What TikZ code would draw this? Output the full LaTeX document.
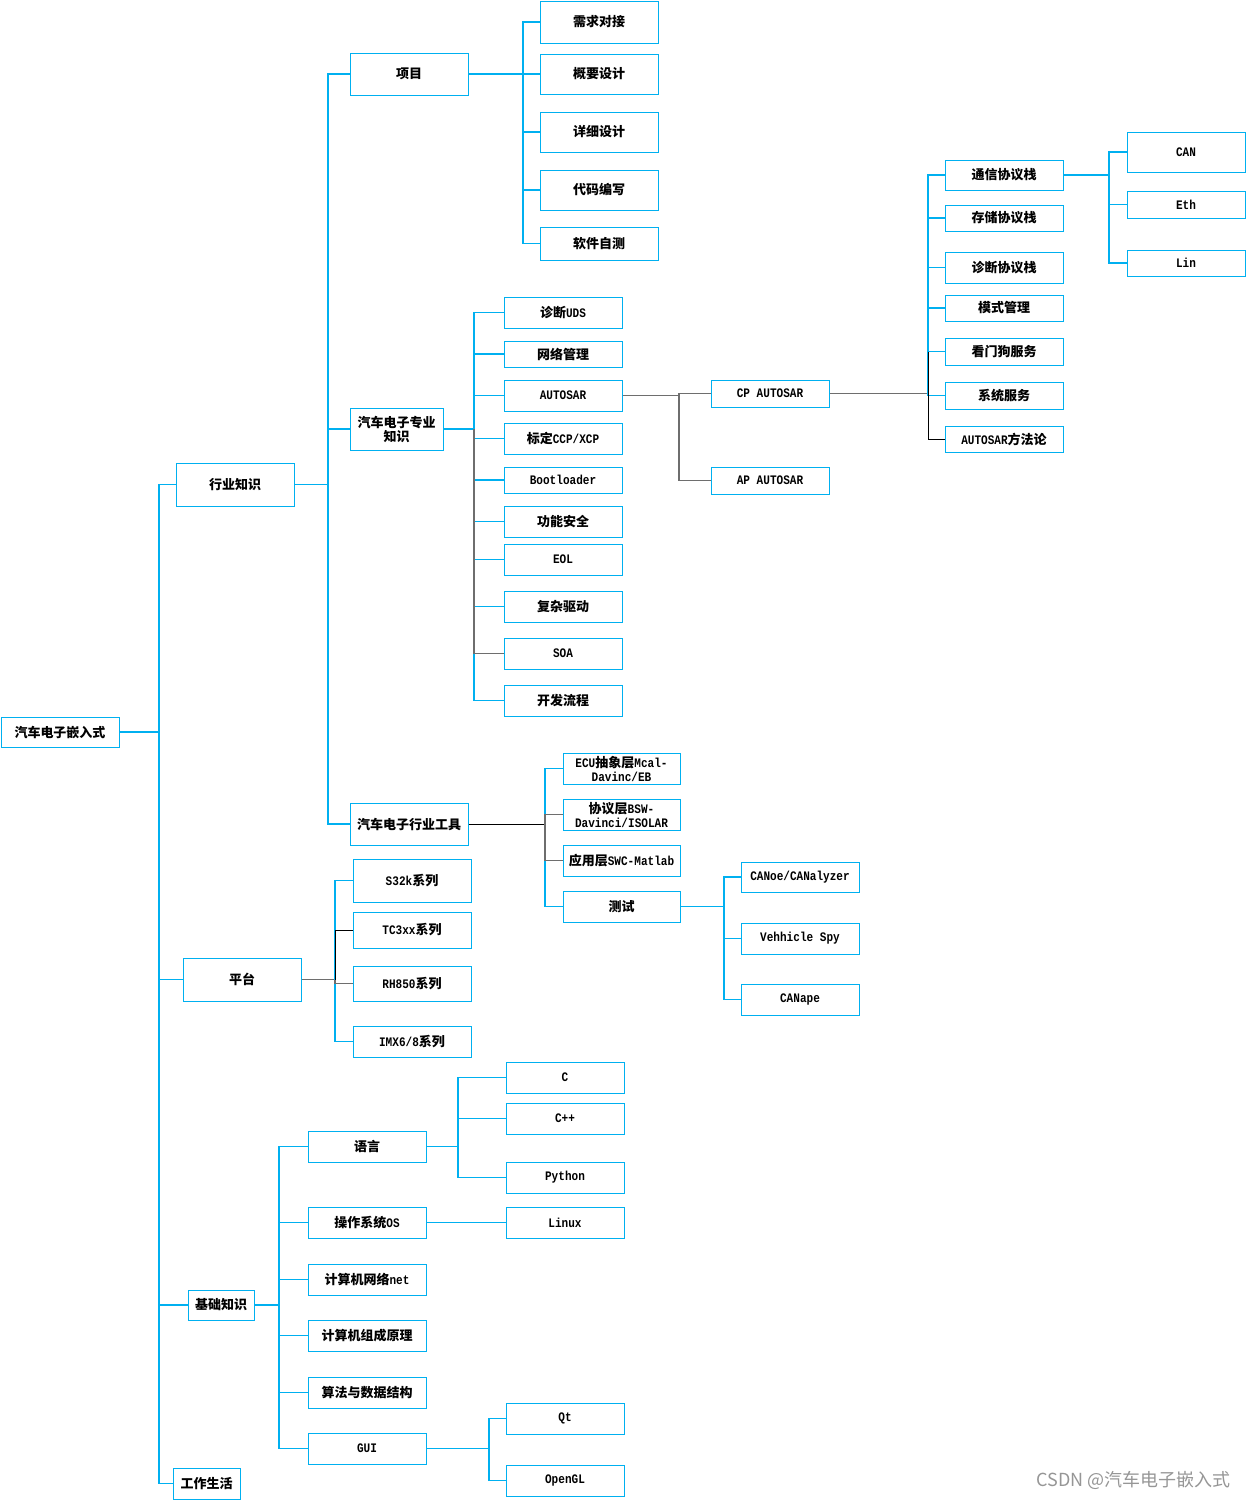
\documentclass[tikz,border=0pt]{standalone}
\usepackage{fontspec}
\setmainfont{Liberation Mono}[FakeStretch=0.85]
\newfontfamily\cjk{Noto Sans CJK SC}
\newfontfamily\wmfont{Noto Sans CJK SC}
\definecolor{bb}{RGB}{0,176,240}
\definecolor{gl}{RGB}{110,110,110}
\definecolor{wm}{RGB}{150,150,150}
\newcommand\zh[1]{{\cjk #1}}
\newcommand\mybox[6]{\node[box, minimum width={(#4-#2)*1pt}, minimum height={(#5-#3)*1pt}] (#1) at ({(#2+#4)/2},{(#3+#5)/2}) {#6};}
\tikzset{
  box/.style={draw=bb, line width=1.0pt, fill=white, inner sep=0pt, align=center,
    font=\fontsize{13}{14}\selectfont\bfseries},
  bl/.style={draw=bb, line width=1.1pt},
  gy/.style={draw=gl, line width=1.1pt},
  bk/.style={draw=black, line width=0.9pt},
}
\begin{document}
\begin{tikzpicture}[x=1pt,y=-1pt]
\fill[white] (0,0) rectangle (1246,1500);
\useasboundingbox (0,0) rectangle (1246,1500);

% trunk coordinates
\coordinate (tRoot) at (159,0);
\coordinate (tInd) at (328,0);
\coordinate (tProj) at (523,0);
\coordinate (tPro) at (474,0);
\coordinate (tAut) at (679,0);
\coordinate (tCP) at (928,0);
\coordinate (tCom) at (1109,0);
\coordinate (tTool) at (545,0);
\coordinate (tTest) at (724,0);
\coordinate (tPlat) at (335,0);
\coordinate (tBase) at (279,0);
\coordinate (tLang) at (458,0);
\coordinate (tGUI) at (489,0);

% nodes
\mybox{root}{1}{717}{119}{747}{\zh{汽车电子嵌入式}}
\mybox{ind}{176}{463}{294}{506}{\zh{行业知识}}
\mybox{plat}{183}{958}{301}{1001}{\zh{平台}}
\mybox{base}{188}{1290}{254}{1320}{\zh{基础知识}}
\mybox{life}{173}{1468}{240}{1499}{\zh{工作生活}}

\mybox{proj}{350}{53}{468}{95}{\zh{项目}}
\mybox{pro}{350}{408}{443}{450}{\zh{汽车电子专业}\\\zh{知识}}
\mybox{tool}{350}{803}{468}{845}{\zh{汽车电子行业工具}}

\mybox{p1}{540}{1}{658}{43}{\zh{需求对接}}
\mybox{p2}{540}{54}{658}{94}{\zh{概要设计}}
\mybox{p3}{540}{112}{658}{152}{\zh{详细设计}}
\mybox{p4}{540}{170}{658}{210}{\zh{代码编写}}
\mybox{p5}{540}{227}{658}{260}{\zh{软件自测}}

\mybox{k1}{504}{297}{622}{328}{\zh{诊断}UDS}
\mybox{k2}{504}{341}{622}{367}{\zh{网络管理}}
\mybox{k3}{504}{380}{622}{411}{AUTOSAR}
\mybox{k4}{504}{423}{622}{454}{\zh{标定}CCP/XCP}
\mybox{k5}{504}{467}{622}{493}{Bootloader}
\mybox{k6}{504}{506}{622}{537}{\zh{功能安全}}
\mybox{k7}{504}{544}{622}{575}{EOL}
\mybox{k8}{504}{591}{622}{622}{\zh{复杂驱动}}
\mybox{k9}{504}{638}{622}{669}{SOA}
\mybox{k10}{504}{685}{622}{716}{\zh{开发流程}}

\mybox{cp}{711}{380}{829}{407}{CP AUTOSAR}
\mybox{ap}{711}{467}{829}{494}{AP AUTOSAR}

\mybox{c1}{945}{160}{1063}{190}{\zh{通信协议栈}}
\mybox{c2}{945}{205}{1063}{231}{\zh{存储协议栈}}
\mybox{c3}{945}{252}{1063}{283}{\zh{诊断协议栈}}
\mybox{c4}{945}{295}{1063}{321}{\zh{模式管理}}
\mybox{c5}{945}{338}{1063}{365}{\zh{看门狗服务}}
\mybox{c6}{945}{382}{1063}{409}{\zh{系统服务}}
\mybox{c7}{945}{426}{1063}{452}{AUTOSAR\zh{方法论}}

\mybox{can}{1127}{132}{1245}{172}{CAN}
\mybox{eth}{1127}{191}{1245}{218}{Eth}
\mybox{lin}{1127}{250}{1245}{276}{Lin}

\mybox{t1}{563}{753}{680}{784}{ECU\zh{抽象层}Mcal-\\Davinc/EB}
\mybox{t2}{563}{799}{680}{830}{\zh{协议层}BSW-\\Davinci/ISOLAR}
\mybox{t3}{563}{845}{680}{876}{\zh{应用层}SWC-Matlab}
\mybox{t4}{563}{891}{680}{922}{\zh{测试}}

\mybox{s1}{741}{862}{859}{892}{CANoe/CANalyzer}
\mybox{s2}{741}{923}{859}{954}{Vehhicle Spy}
\mybox{s3}{741}{984}{859}{1015}{CANape}

\mybox{m1}{353}{859}{471}{902}{S32k\zh{系列}}
\mybox{m2}{353}{912}{471}{948}{TC3xx\zh{系列}}
\mybox{m3}{353}{966}{471}{1001}{RH850\zh{系列}}
\mybox{m4}{353}{1026}{471}{1057}{IMX6/8\zh{系列}}

\mybox{b1}{308}{1131}{426}{1162}{\zh{语言}}
\mybox{b2}{308}{1207}{426}{1238}{\zh{操作系统}OS}
\mybox{b3}{308}{1264}{426}{1295}{\zh{计算机网络}net}
\mybox{b4}{308}{1320}{426}{1351}{\zh{计算机组成原理}}
\mybox{b5}{308}{1377}{426}{1408}{\zh{算法与数据结构}}
\mybox{b6}{308}{1433}{426}{1464}{GUI}

\mybox{l1}{506}{1062}{624}{1093}{C}
\mybox{l2}{506}{1103}{624}{1134}{C++}
\mybox{l3}{506}{1162}{624}{1193}{Python}
\mybox{os1}{506}{1207}{624}{1238}{Linux}
\mybox{g1}{506}{1403}{624}{1434}{Qt}
\mybox{g2}{506}{1465}{624}{1496}{OpenGL}

\node[anchor=east, text=wm, font=\wmfont\fontsize{18}{20}\selectfont, inner sep=0pt] (wmk) at (1231,1480) {CSDN @汽车电子嵌入式};

% connectors
\foreach \c in {ind,plat,base,life}{\draw[bl] (root.east) -- (root.east -| tRoot) |- (\c.west);}
\foreach \c in {proj,pro,tool}{\draw[bl] (ind.east) -- (ind.east -| tInd) |- (\c.west);}
\foreach \c in {p1,p2,p3,p4,p5}{\draw[bl] (proj.east) -- (proj.east -| tProj) |- (\c.west);}
\foreach \c in {k1,k2,k3,k4,k5,k6,k7,k8,k10}{\draw[bl] (pro.east) -- (pro.east -| tPro) |- (\c.west);}
\draw[gy] (pro.east -| tPro) |- (k9.west);
\draw[gy] (k3.east) -- (k3.east -| tAut) |- (cp.west);
\draw[gy] (k3.east -| tAut) |- (ap.west);
\draw[gy] (cp.east) -- (cp.east -| tCP);
\foreach \c in {c1,c2,c3,c4,c5,c6}{\draw[bl] (cp.east -| tCP) |- (\c.west);}
\draw[bk] (c5.west -| tCP) |- (c7.west);
\foreach \c in {can,eth,lin}{\draw[bl] (c1.east) -- (c1.east -| tCom) |- (\c.west);}
\draw[bk] (tool.east) -- (tool.east -| tTool);
\foreach \c in {t1,t4}{\draw[bl] (tool.east -| tTool) |- (\c.west);}
\foreach \c in {t2,t3}{\draw[gy] (tool.east -| tTool) |- (\c.west);}
\foreach \c in {s1,s2,s3}{\draw[bl] (t4.east) -- (t4.east -| tTest) |- (\c.west);}
\draw[gy] (plat.east) -- (plat.east -| tPlat);
\foreach \c in {m1,m4}{\draw[bl] (plat.east -| tPlat) |- (\c.west);}
\draw[bk] (plat.east -| tPlat) |- (m2.west);
\draw[gy] (plat.east -| tPlat) |- (m3.west);
\foreach \c in {b1,b2,b3,b4,b5,b6}{\draw[bl] (base.east) -- (base.east -| tBase) |- (\c.west);}
\foreach \c in {l1,l2,l3}{\draw[bl] (b1.east) -- (b1.east -| tLang) |- (\c.west);}
\draw[bl] (b2.east) -- (os1.west);
\foreach \c in {g1,g2}{\draw[bl] (b6.east) -- (b6.east -| tGUI) |- (\c.west);}
\end{tikzpicture}
\end{document}
